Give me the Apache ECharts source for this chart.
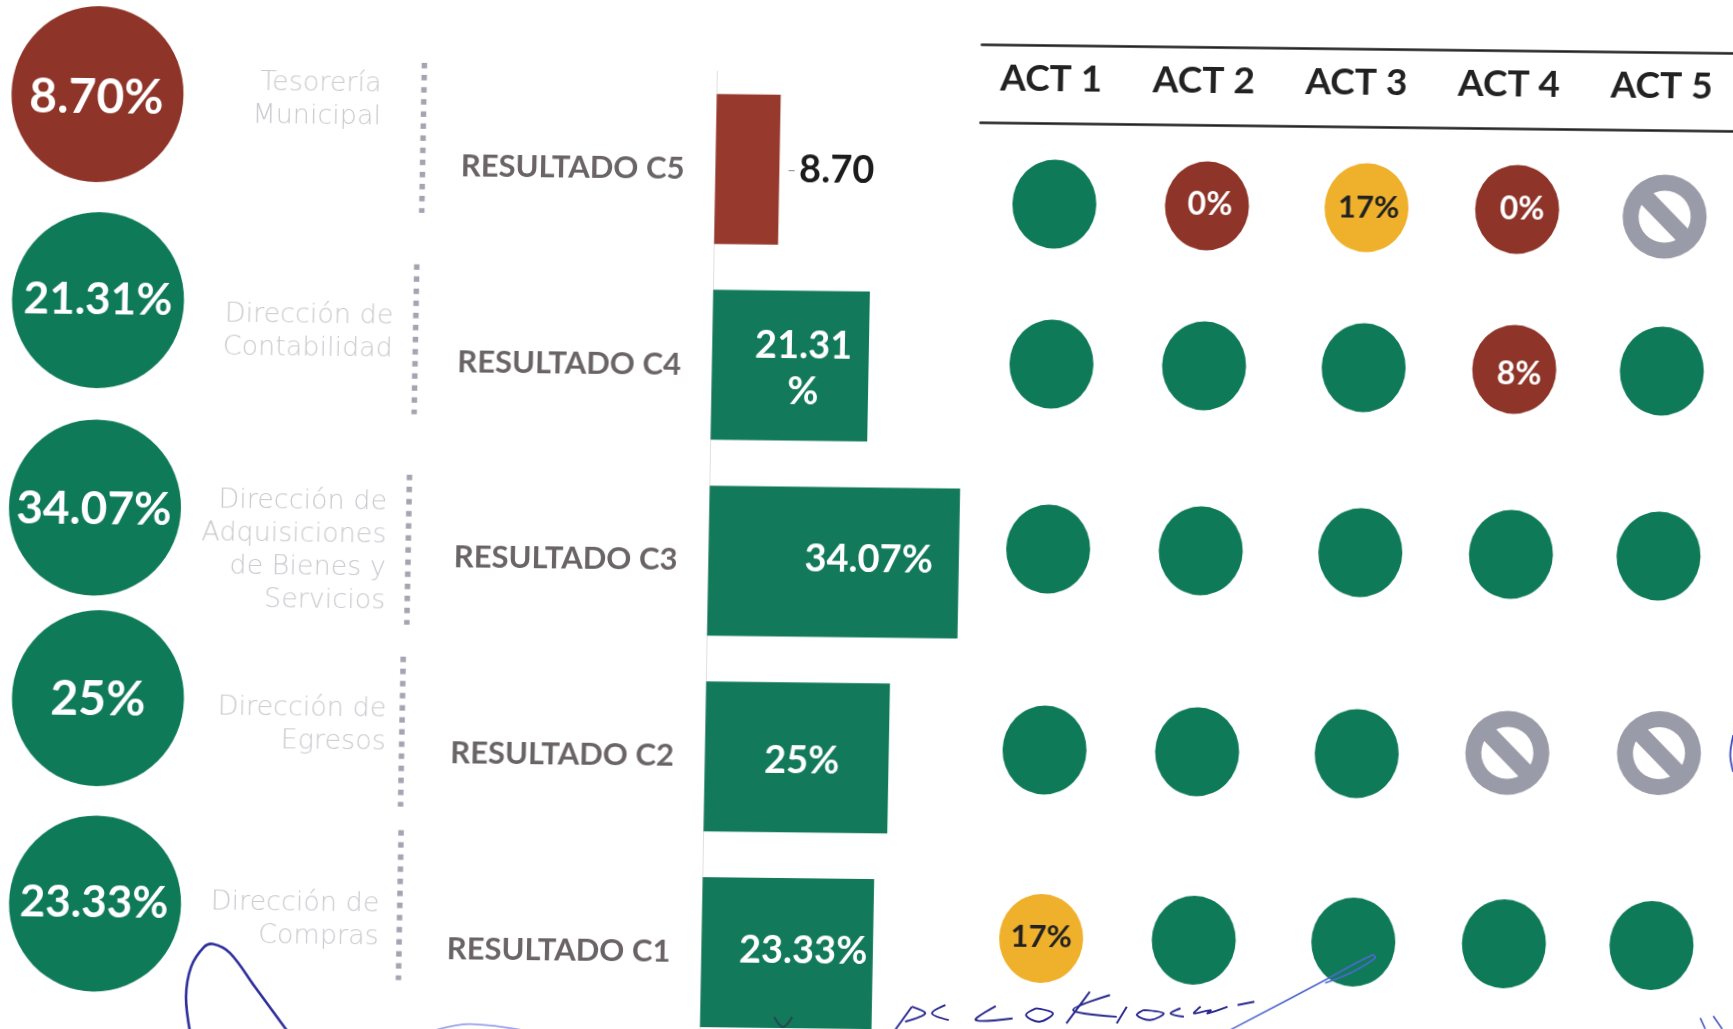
<!DOCTYPE html>
<html><head><meta charset="utf-8">
<style>
html,body{margin:0;padding:0;width:1733px;height:1029px;overflow:hidden;background:#fff}
#c{position:absolute;left:0;top:0;width:1790px;height:1070px;transform-origin:0 0;transform:matrix(1,.0115,-.018,1,0,0)}
</style>
<script src="https://cdn.jsdelivr.net/npm/echarts@6/dist/echarts.min.js"></script>
</head><body><div id="c"></div>
<script>
// ---- data (top row first) ----
const results = ['RESULTADO C5','RESULTADO C4','RESULTADO C3','RESULTADO C2','RESULTADO C1'];
const resultValues = [8.70,21.31,34.07,25,23.33];
const barLabels = ['8.70','21.31\n%','34.07%','25%','23.33%'];
const medalLabels = ['8.70%','21.31%','34.07%','25%','23.33%'];
const departments = ['Tesorería\nMunicipal','Dirección de\nContabilidad','Dirección de\nAdquisiciones\nde Bienes y\nServicios','Dirección de\nEgresos','Dirección de\nCompras'];
const activities = ['ACT 1','ACT 2','ACT 3','ACT 4','ACT 5'];
const actC5 = [100,0,17,0,null];
const actC4 = [100,100,100,8,100];
const actC3 = [100,100,100,100,100];
const actC2 = [100,100,100,null,null];
const actC1 = [17,100,100,100,100];
const actRows = [actC5,actC4,actC3,actC2,actC1];

// ---- styling / layout tweaks, kept apart from the data ----
const GREEN='#0f7a58', RED='#8e3429', AMBER='#efb12c', GREY='#9a9ba8';
const FONT='Lato';
const medalNudge=[[-5.8,-7.4],[-1.6,-2.2],[-.9,4.4],[5.5,-5.8],[6.3,-1.2]];
const medalLabelNudge=[[-1,4],[0,0],[-1,2],[0,2],[-1,-1]];
const medalFont=[48,44,46,48,44];
const labelOffset=[[0,0],[13,3],[35,-3],[5,4],[16,-2]];
const deptLabelDx=[278,294,291,294,290.5], deptLabelDy=[-3.6,27.6,45.8,19,13.2];
const dividerDx=[320.5,316.5,313,310,311], dividerDy=[32.6,33.3,43,24.2,-3.1];
const colNudge=[-1,-1,6,4,-1], rowNudge=[0,-23.5,-22,-4.5,.5];
const cellNudge={'0,4':[0,5.5],'3,3':[0,-2.5],'3,4':[4,-4]};
const cellLabelNudge={'0,1':[3,-1],'0,2':[2,0],'0,3':[5,0],'1,3':[5,5],'4,0':[0,-2]};
const NO_ENTRY='path://M50 0A50 50 0 1 1 50 100A50 50 0 1 1 50 0ZM50 19A31 31 0 1 0 50 81A31 31 0 1 0 50 19ZM20 34L34 20L80 66L66 80Z';
const statusColor=v=>v===null?GREY:v>=100?GREEN:v>=17?AMBER:RED;

const barData=resultValues.map((v,i)=>({
  value:v,
  itemStyle:{color:i===0?'#98392d':'#127a5a'},
  label:i===0?{show:true,position:'right',distance:8,formatter:'{d|–} {v|'+barLabels[i]+'}',
      rich:{d:{color:'#888',fontSize:15,fontFamily:FONT},v:{color:'#1c1c1c',fontSize:38,fontWeight:700,fontFamily:FONT}}}
    :{show:true,position:'inside',offset:labelOffset[i],formatter:barLabels[i],color:'#fff',fontSize:38,fontWeight:700,fontFamily:FONT,lineHeight:46,align:'center'}
}));

const medalData=resultValues.map((v,i)=>({
  value:[0,i],
  symbolOffset:medalNudge[i],
  itemStyle:{color:v<10?RED:GREEN,opacity:1},
  label:{show:true,position:'inside',offset:medalLabelNudge[i],formatter:medalLabels[i],color:'#fff',fontSize:medalFont[i],fontWeight:700,fontFamily:FONT}
}));

const cellData=[];
actRows.forEach((row,r)=>row.forEach((v,c)=>{
  const extra=cellNudge[r+','+c]||[0,0];
  const showText=v!==null&&v<100;
  cellData.push({
    value:[c,r,v],
    symbol:v===null?NO_ENTRY:'circle',
    symbolSize:v===null?[84,84]:[84,89],
    symbolOffset:[colNudge[c]+extra[0],rowNudge[r]+extra[1]],
    itemStyle:{color:statusColor(v),opacity:1},
    label:{show:showText,position:'inside',offset:cellLabelNudge[r+','+c]||[0,0],formatter:v+'%',color:v===17?'#222':'#fff',fontSize:v===17?31:32,fontWeight:700,fontFamily:FONT}
  });
}));

// ---- hand-written pen marks on the scan (screen coordinates, un-skewed for the canvas) ----
const unskew=p=>[p[0]+.018*p[1],p[1]-.0115*p[0]];
const pen=(pts,color,w)=>({type:'polyline',z:50,shape:{points:pts.map(unskew),smooth:.35},style:{fill:null,stroke:color,lineWidth:w}});
const INK='#28288e';
const sig=pts=>pen(pts.map(p=>[680+p[0]*.6716,850+p[1]/3]),INK,1.9);
const penMarks=[
  pen([[190,1032],[186,997],[191,967],[204,947],[213,944],[230,953],[255,987],[288,1032]],'#2f2f9c',2.6),
  pen([[432,1031],[469,1024],[527,1031]],'#9aa2ea',1.6),
  pen([[1228,1031],[1325,980],[1372,955],[1375,958],[1352,972],[1325,983]],'#4f68d2',1.6),
  sig([[345,470],[320,540]]),
  sig([[345,470],[365,490],[335,515]]),
  sig([[395,465],[375,490],[400,510]]),
  sig([[470,468],[440,510],[495,505]]),
  sig([[530,475],[555,490],[535,515],[515,495],[530,475]]),
  sig([[610,425],[575,520]]),
  sig([[640,435],[585,480],[650,500]]),
  sig([[665,470],[650,520]]),
  sig([[690,480],[720,490],[700,510],[680,495],[690,480]]),
  sig([[745,475],[730,490],[750,500]]),
  sig([[775,470],[765,490],[790,480],[785,490],[815,470]]),
  sig([[830,465],[855,455]]),
  pen([[774,1017],[783,1027],[792,1017]],'#274a52',2.2),
  pen([[1700,1018],[1705,1029]],'#4a5ac8',1.6),
  pen([[1713,1016],[1722,1029]],'#4a5ac8',1.6),
  pen([[1733,735],[1730,755],[1733,772]],'#3848b8',1.8)
];

const chart=echarts.init(document.getElementById('c'),null,{renderer:'canvas'});
chart.setOption({
  animation:false,
  backgroundColor:'#fff',
  textStyle:{fontFamily:FONT},
  graphic:penMarks,
  grid:[
    {left:718.4,top:62.9,width:294,height:979},
    {left:5,top:0,width:200,height:1004},
    {left:982.6,top:100.25,width:763,height:917.5},
    {left:982.6,top:33,width:763,height:78.5}
  ],
  xAxis:[
    {gridIndex:0,type:'value',min:0,max:40,show:false},
    {gridIndex:1,type:'category',data:[''],show:false},
    {gridIndex:2,type:'category',data:activities,show:false},
    {gridIndex:3,type:'category',data:activities,position:'bottom',
      axisLine:{show:true,lineStyle:{color:'#222',width:2.6}},axisTick:{show:false},
      axisLabel:{inside:true,margin:44,verticalAlign:'middle',padding:[0,12.8,0,0],color:'#222',fontSize:37,fontWeight:700,fontFamily:FONT}},
    {gridIndex:3,type:'category',data:activities,position:'top',
      axisLine:{show:true,lineStyle:{color:'#222',width:2.6}},axisTick:{show:false},axisLabel:{show:false}}
  ],
  yAxis:[
    {gridIndex:0,type:'category',inverse:true,data:results,
      axisLine:{show:true,lineStyle:{color:'#e3dfe0',width:1}},axisTick:{show:false},
      axisLabel:{margin:31,padding:[0,0,5,0],color:'#6a6466',fontSize:31,fontWeight:700,fontFamily:FONT}},
    {gridIndex:1,type:'category',inverse:true,data:results,show:false},
    {gridIndex:2,type:'category',inverse:true,data:results,show:false},
    {gridIndex:3,type:'value',show:false,min:0,max:1}
  ],
  series:[
    {type:'bar',xAxisIndex:0,yAxisIndex:0,barWidth:150,data:barData},
    {type:'scatter',xAxisIndex:1,yAxisIndex:1,symbol:'circle',symbolSize:[172,176],data:medalData},
    {type:'custom',xAxisIndex:1,yAxisIndex:1,clip:false,
      data:departments.map((d,i)=>[0,i]),
      renderItem:(p,api)=>{
        const i=p.dataIndex, o=api.coord([0,i]);
        const dx=o[0]+dividerDx[i], dy=o[1]+dividerDy[i];
        return {type:'group',children:[
          {type:'line',shape:{x1:dx,y1:dy-75,x2:dx,y2:dy+75},style:{stroke:'#a6a4b2',lineWidth:5.5,lineDash:[5.5,6.6],fill:null}},
          {type:'text',style:{text:departments[i],x:o[0]+deptLabelDx[i],y:o[1]+deptLabelDy[i],align:'right',verticalAlign:'middle',
            fontFamily:'DejaVu Sans',fontWeight:200,fontSize:27,lineHeight:33,fill:'#ccc9ce'}}
        ]};
      }},
    {type:'scatter',xAxisIndex:2,yAxisIndex:2,data:cellData}
  ]
});
</script></body></html>
